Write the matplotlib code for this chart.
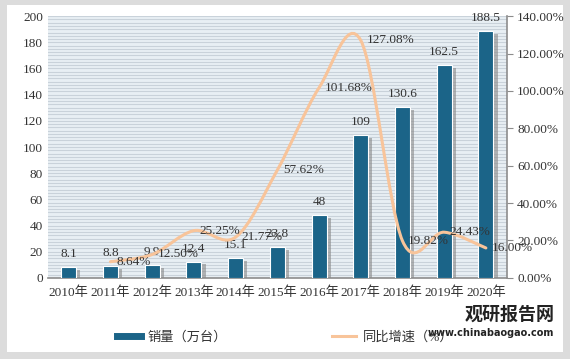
import numpy as np
import matplotlib.pyplot as plt
from matplotlib.path import Path
from matplotlib.patches import PathPatch, Rectangle
from matplotlib.lines import Line2D
import matplotlib.patheffects as pe

plt.rcParams['font.family'] = ['Liberation Serif', 'Noto Sans CJK SC', 'DejaVu Sans']

# ---- Data ----
years = ['2010年', '2011年', '2012年', '2013年', '2014年', '2015年',
         '2016年', '2017年', '2018年', '2019年', '2020年']
sales = [8.1, 8.8, 9.9, 12.4, 15.1, 23.8, 48, 109, 130.6, 162.5, 188.5]
sales_labels = ['8.1', '8.8', '9.9', '12.4', '15.1', '23.8', '48', '109', '130.6', '162.5', '188.5']
growth = [8.64, 12.50, 25.25, 21.77, 57.62, 101.68, 127.08, 19.82, 24.43, 16.00]
growth_labels = ['8.64%', '12.50%', '25.25%', '21.77%', '57.62%', '101.68%',
                 '127.08%', '19.82%', '24.43%', '16.00%']

bar_color = '#1b6488'
line_color = '#f8c49a'
text_color = '#333333'

fig = plt.figure(figsize=(5.7, 3.59), dpi=100)
fig.patch.set_facecolor('#dcdcdc')
# white panel
fig.patches.append(Rectangle((0.012, 0.02), 0.976, 0.965, transform=fig.transFigure,
                             facecolor='white', edgecolor='none', zorder=-10))

ax = fig.add_axes([0.084, 0.226, 0.805, 0.729])
ax2 = ax.twinx()

x = np.arange(len(years))

# striped background
ax.set_facecolor('#e8eff4')
for yy in np.arange(0, 200.1, 2.5):
    ax.axhline(yy, color='#c9d2da', lw=0.8, zorder=0)

bars = ax.bar(x, sales, width=0.36, color=bar_color, edgecolor='white', linewidth=0.8, zorder=3)
for b in bars:
    b.set_path_effects([pe.SimplePatchShadow(offset=(3, -2), shadow_rgbFace='#888888', alpha=0.6),
                        pe.Normal()])

for xi, v, lab in zip(x, sales, sales_labels):
    ax.annotate(lab, (xi, v), xytext=(0, 5), textcoords='offset points',
                ha='center', va='bottom', fontsize=9.5, color=text_color, zorder=5)

ax.set_xlim(-0.5, len(years) - 0.5)
ax.set_ylim(0, 200)
ax.set_yticks(np.arange(0, 201, 20))
ax.set_xticks(x)
ax.set_xticklabels(years)
ax.tick_params(axis='both', labelsize=9.5, colors=text_color, length=0)
ax.tick_params(axis='x', pad=6)
for s in ['top', 'right', 'left']:
    ax.spines[s].set_visible(False)
ax.spines['bottom'].set_color('#8c8c8c')
ax.spines['bottom'].set_linewidth(1.2)

# smoothed growth line (Bezier through data points)
gx = x[1:].astype(float)
gy = np.array(growth, dtype=float)
n = len(gx)
verts = [(gx[0], gy[0])]
codes = [Path.MOVETO]
for i in range(n - 1):
    p0 = max(i - 1, 0)
    p3 = min(i + 2, n - 1)
    c1 = (gx[i] + (gx[i + 1] - gx[p0]) / 6, gy[i] + (gy[i + 1] - gy[p0]) / 6)
    c2 = (gx[i + 1] - (gx[p3] - gx[i]) / 6, gy[i + 1] - (gy[p3] - gy[i]) / 6)
    verts += [c1, c2, (gx[i + 1], gy[i + 1])]
    codes += [Path.CURVE4] * 3
ax2.add_patch(PathPatch(Path(verts, codes), facecolor='none', edgecolor=line_color,
                        lw=2.2, zorder=4, capstyle='round'))

for xi, v, lab in zip(gx, gy, growth_labels):
    ax2.annotate(lab, (xi, v), xytext=(4, 0), textcoords='offset points',
                 ha='left', va='center', fontsize=9.5, color=text_color, zorder=6)

ax2.set_ylim(0, 140)
ax2.set_yticks(np.arange(0, 141, 20))
ax2.set_yticklabels([f'{v:.2f}%' for v in np.arange(0, 141, 20)])
ax2.tick_params(axis='y', labelsize=9.5, colors=text_color, length=4, direction='out')
ax2.tick_params(axis='y', color='#8c8c8c')
for s in ['top', 'left', 'bottom']:
    ax2.spines[s].set_visible(False)
ax2.spines['right'].set_color('#8c8c8c')
ax2.spines['right'].set_linewidth(1.2)

# legend
handles = [Line2D([0], [0], color=bar_color, lw=5),
           Line2D([0], [0], color=line_color, lw=2.2)]
fig.legend(handles, ['销量（万台）', '同比增速（%）'], loc='center', ncol=2,
           bbox_to_anchor=(0.5, 0.06), frameon=False, fontsize=9.5,
           columnspacing=8, handlelength=1.8, handletextpad=0.5, labelcolor=text_color)

# watermark
fig.text(0.895, 0.125, '观研报告网', fontsize=13, fontweight='bold', color='#222222',
         ha='center', va='center', family=['Noto Sans CJK SC'])
fig.text(0.862, 0.072, 'www.chinabaogao.com', fontsize=7, fontweight='bold', color='#222222',
         ha='center', va='center', family=['DejaVu Sans'])

fig.savefig('out.png', dpi=100, facecolor=fig.get_facecolor())
